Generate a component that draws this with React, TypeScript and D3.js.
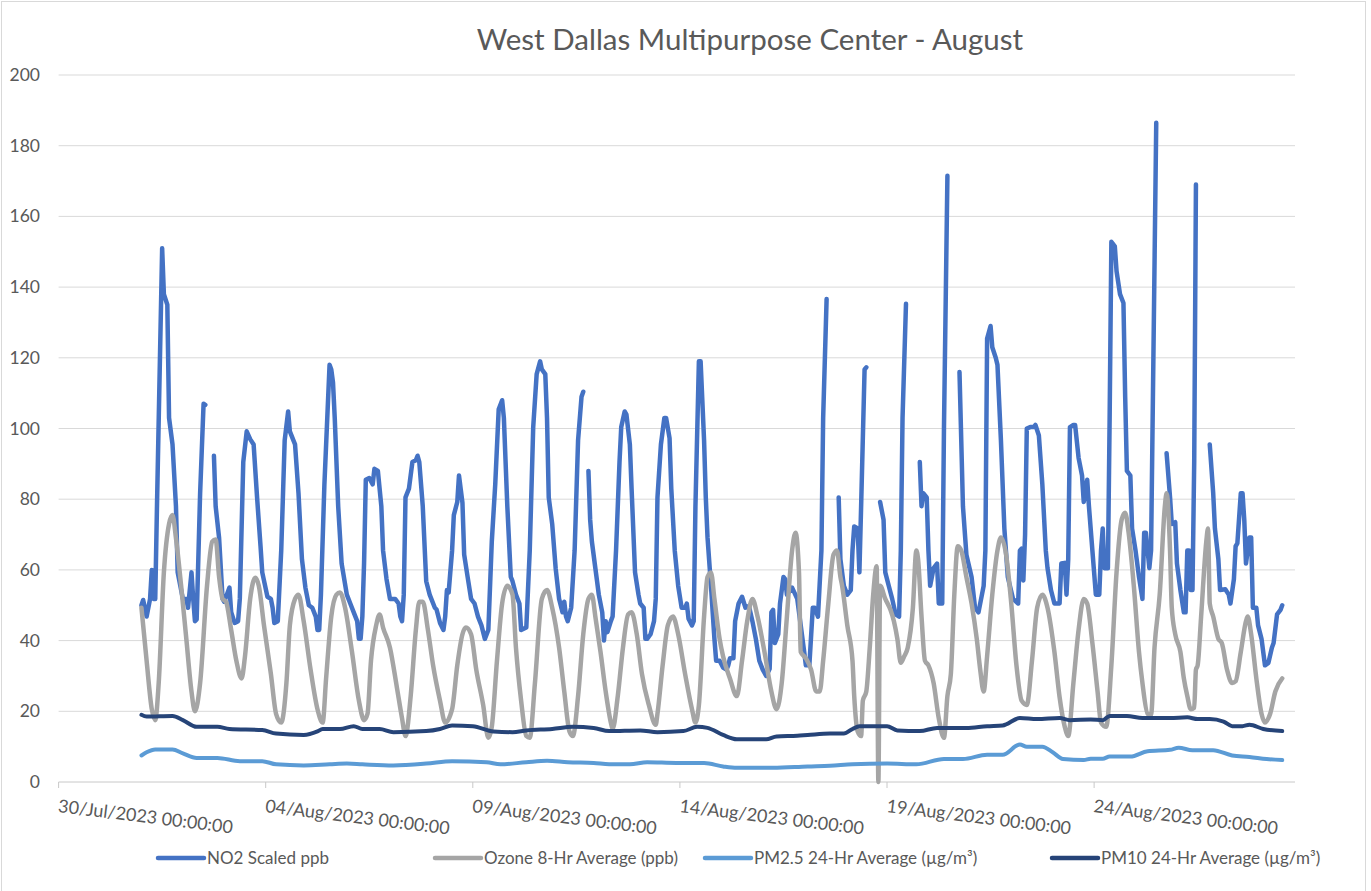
import React from "react";
import * as d3 from "d3";

type Pt = [number, number | null];

// hours since 01/Aug/2023 00:00, value
const no2: Pt[] = [[0,50],[1,51.5],[3,46.8],[5,51.8],[6,60],[7,51.8],[8,51.8],[9,78],[12,151],[13,138],[15,135],[16,103],[18,95.5],[20,78],[21,59.3],[24,51.8],[26,51.8],[27,49.3],[29,59.3],[30,51.8],[31,45.5],[32,46],[34,81.7],[36,107],[37,106.7],[39,null],[42,92.3],[43,78],[45,69],[47,51.8],[48,51],[51,55],[52,48],[54,45],[56,45.5],[57,51.8],[59,90.5],[61,99.2],[63,97],[65,95.5],[67,80.5],[69,66.7],[70,59.3],[73,52.4],[75,51.8],[76,49.3],[77,45],[79,45.5],[81,65.5],[83,96.7],[85,104.8],[86,99.2],[88,96.7],[89,95.5],[91,81.7],[93,63],[95,55],[97,50],[99,49.3],[101,46.8],[102,43],[103,43],[104,53],[106,84],[109,118],[110,116.7],[111,113],[112,103],[114,78],[116,61.8],[119,53],[121,50.5],[123,48],[125,45.5],[126,40.5],[127,40.5],[128,46.8],[129,62],[130,85.5],[132,86],[134,84.2],[135,88.6],[137,88],[139,78],[140,65.5],[142,57.4],[144,51.8],[147,51.8],[149,50.5],[150,46.8],[151,45.5],[152,53],[153,80.5],[155,83],[157,90.5],[159,91],[160,92.3],[161,90.5],[163,78],[165,56.8],[167,53],[170,49.3],[171,48.8],[173,45],[175,43],[176,46.8],[177,54.3],[178,53.6],[180,65.5],[181,75.5],[183,79.2],[184,86.7],[186,79],[187,64.3],[189,58],[191,51.8],[193,50.5],[195,46.8],[197,44.3],[199,40.5],[201,43],[203,68],[205,84.2],[207,105.4],[209,108],[210,103],[212,78],[214,58],[215,56.8],[217,53],[219,50.5],[220,43],[223,43.7],[225,65.5],[227,100.4],[229,115.4],[231,119],[232,116.7],[234,115.4],[235,103],[236,80.5],[238,73],[240,60.5],[242,51.8],[244,48],[245,51],[246,46.8],[247,45.5],[249,49.3],[251,65.5],[253,96.7],[255,109],[256,110.4],[257,null],[259,88],[260,74.2],[261,68],[263,60.5],[264,56.8],[265,53],[267,48],[268,40],[269,45.5],[270,42.4],[272,45.5],[273,46.8],[275,65.5],[277,90.5],[278,100.4],[280,104.8],[281,104],[283,95.5],[284,83],[286,59.3],[288,53],[289,50.5],[291,49.3],[292,40.5],[293,40.5],[295,41.8],[297,45.5],[298,51.8],[299,80.5],[301,95.5],[303,103],[304,103],[306,97.3],[307,83],[309,65.5],[311,55.5],[313,49.3],[315,49.3],[316,50.5],[317,46.2],[319,44.3],[320,45.5],[321,78],[323,119],[324,119],[326,96.7],[327,80.5],[328,69.2],[330,55.5],[332,40.5],[333,34.3],[335,34.3],[337,32.4],[339,31.8],[340,33],[341,35],[343,35],[344,45.5],[346,50.5],[348,52.4],[350,49.3],[352,49.8],[354,45.5],[356,40.5],[358,34.3],[360,31.8],[362,30],[364,32],[365,48],[366,48.7],[367,39.3],[369,41.8],[370,50.5],[372,58],[373,57.4],[374,53],[377,55],[380,51.8],[384,36.8],[385,33],[387,33],[389,49.3],[390,49.3],[392,46.8],[394,65.5],[395,103],[397,136.6],[398,null],[404,80.5],[405,63],[407,55.5],[409,53],[411,54.3],[412,65.5],[413,72.3],[415,71.7],[416,59.3],[417,78],[419,116.7],[420,117.3],[421,null],[428,79.2],[430,74.2],[431,59.3],[433,55.5],[435,51.8],[437,47.4],[439,46.8],[440,65.5],[441,103],[443,135.3],[444,null],[451,90.5],[452,78],[453,81.7],[455,80.5],[456,65.5],[457,55.5],[459,60.5],[461,61.8],[462,50.5],[464,50.5],[465,100],[467,171.5],[468,null],[474,116],[476,78],[478,64.3],[481,58],[483,49.3],[485,48],[488,55.5],[489,65.5],[490,125.4],[492,129],[493,123],[495,120],[496,118],[498,96.7],[500,71.7],[502,58],[505,51.8],[508,50.5],[509,65.5],[510,66],[511,57],[512,70],[513,100],[515,100.4],[517,100.4],[518,101],[520,98],[522,84.2],[524,65.5],[525,60.5],[527,54.3],[529,50.5],[530,50.5],[532,50.5],[533,61.8],[535,62],[536,53],[537,63],[538,100.4],[540,101],[541,101],[543,91.7],[545,86.7],[546,79.2],[548,85.5],[549,78],[551,65.5],[552,59.3],[553,53],[555,53],[556,65.5],[557,71.7],[558,60.5],[560,60.5],[561,103],[562,152.8],[564,151.5],[565,144.5],[567,138],[569,135.5],[570,109],[571,88],[573,86.7],[574,71.7],[576,65.5],[578,58],[580,51.8],[581,70.5],[582,70.5],[584,60.5],[585,65.5],[588,186.5],[589,null],[594,93],[596,80.5],[597,73],[599,73.5],[600,61.8],[602,54.3],[604,48],[605,48],[606,65.5],[607,65.5],[608,54.3],[609,54.3],[610,90.5],[611,169],[612,null],[619,95.5],[621,81.7],[622,71.7],[624,63],[625,54.3],[628,54.5],[630,53],[631,50.5],[633,57.4],[634,66.7],[635,67.5],[637,81.7],[638,81.7],[639,74.2],[640,61.8],[642,69.2],[643,69.2],[644,49.3],[646,49.3],[647,44.3],[649,40.5],[651,33],[653,33.7],[655,38],[656,39.3],[658,47.4],[660,48.7],[661,50]];

const ozone: Pt[] = [[0,49.3],[3,34.3],[6,20.6],[8,17.5],[10,28],[13,59.3],[16,73],[18,75.5],[20,69],[23,55.5],[26,40.5],[29,25.6],[31,20],[34,28],[38,55.5],[41,68],[43,68.6],[45,58],[47,51.8],[49,51],[52,43],[55,34.3],[58,29.3],[60,35.6],[63,51.8],[66,57.8],[68,55.5],[71,44.3],[75,30.6],[78,19.3],[81,16.8],[84,28],[86,44.3],[89,51.8],[91,53],[94,45.5],[98,31.8],[102,20.6],[105,16.8],[107,29.3],[110,46.8],[113,53],[115,53.6],[118,49.3],[122,36.8],[126,23],[129,17.5],[131,19.3],[133,34.3],[136,44.3],[138,47.4],[140,43.7],[144,38],[148,26.8],[151,18],[153,13],[156,24.3],[159,43],[161,51],[163,51],[166,43],[169,33],[173,23],[176,16.8],[180,20.6],[183,33],[186,41.8],[188,43.7],[191,41.8],[194,31.8],[198,21.8],[201,12.5],[203,15.6],[206,34.3],[209,50.5],[212,55.5],[215,53],[217,38],[220,23],[223,13],[225,12.5],[228,28],[232,51.8],[235,54.3],[238,49.3],[242,38],[245,25.6],[248,14.3],[250,13],[253,24.3],[256,41.8],[259,51.8],[261,53],[263,46.8],[266,36.8],[269,25.6],[272,16.8],[273,15],[276,24.3],[279,38],[282,47.4],[284,48],[287,41.8],[290,30.6],[294,21.8],[298,16.2],[299,19.3],[302,33],[305,44.3],[308,46.8],[311,41.8],[315,30.6],[319,20.6],[321,16.8],[323,21.8],[326,46.8],[328,58],[330,59.3],[332,51.8],[335,40.5],[337,35.6],[341,29.3],[345,24.3],[348,34.3],[351,45.5],[354,51.8],[357,46.8],[361,36.8],[365,25.6],[368,20.6],[371,28],[374,46.8],[377,65.5],[379,70.5],[381,59.3],[382,36.8],[385,35],[388,31.8],[391,25.6],[393,25.6],[395,34.3],[398,50.5],[401,64.3],[403,65.5],[405,58],[406,55.5],[409,44.3],[412,34.3],[413,24.3],[415,14.3],[417,13],[418,23],[420,25.6],[422,38],[424,53],[426,61],[427,0],[428,55.5],[431,51.8],[434,48.7],[436,45.5],[438,40.5],[440,33.7],[442,35.6],[444,38],[447,49.3],[449,65.5],[450,63],[452,46.8],[454,34.3],[456,33],[459,28],[462,18],[465,12.5],[467,24.3],[469,30.6],[471,53],[473,66.7],[475,65.5],[478,58],[481,50.5],[484,40.5],[486,31.8],[488,25.6],[490,35.6],[493,53],[496,65.5],[498,69.2],[501,64.3],[504,50.5],[507,33],[510,23],[513,21.8],[516,34.3],[519,49.3],[522,53],[525,49.3],[529,36.8],[532,24],[535,15.6],[537,13],[540,28],[543,43],[546,51.8],[548,50.5],[551,39.3],[554,25.6],[556,16.8],[559,15.6],[562,33],[565,59.3],[568,74.3],[570,76.2],[572,70.5],[575,55.5],[578,36.8],[580,28],[583,19.3],[585,19],[587,38],[590,53],[593,78],[594,81.7],[596,65.5],[597,49.3],[599,41.8],[602,36.8],[604,29.3],[606,24.3],[608,20.6],[610,21],[611,31.8],[612,33],[614,46.8],[617,68],[618,71.7],[619,50.5],[621,46.8],[624,40.5],[626,39.3],[629,31.8],[632,28],[634,28.5],[637,36.8],[640,45.5],[641,46.8],[643,41.8],[646,29.3],[649,19.3],[651,16.8],[654,19.3],[657,25.6],[661,29.3]];

const pm25: Pt[] = [[0,7.5],[3,8.4],[8,9.2],[18,9.2],[24,8.1],[32,6.8],[44,6.8],[57,5.9],[70,5.9],[78,5],[94,4.7],[109,5],[119,5.2],[128,5],[146,4.7],[165,5.2],[180,5.9],[200,5.6],[208,5],[223,5.6],[235,6],[247,5.6],[262,5.4],[271,5],[283,5],[293,5.6],[310,5.4],[326,5.4],[337,4.4],[345,4],[366,4],[386,4.4],[399,4.6],[412,5],[432,5.2],[449,5],[465,6.5],[476,6.5],[490,7.7],[499,7.7],[509,10.6],[513,10],[522,10],[528,8.4],[534,6.5],[546,6.2],[550,6.6],[557,6.6],[561,7.2],[573,7.2],[583,8.7],[596,9.1],[601,9.7],[609,9],[621,9],[632,7.5],[642,7.1],[652,6.5],[661,6.2]];

const pm10: Pt[] = [[0,19],[3,18.5],[18,18.7],[24,17.5],[32,15.6],[44,15.6],[51,15],[70,14.7],[78,13.7],[94,13.3],[102,14.3],[105,15],[115,15],[123,15.8],[128,15],[138,15],[146,14.1],[165,14.4],[173,15],[180,16],[192,15.8],[204,14.3],[215,14.1],[223,14.6],[238,15],[250,15.6],[262,15.3],[271,14.4],[289,14.6],[299,14.1],[314,14.4],[322,15.6],[328,15.3],[337,13.3],[345,12.1],[362,12.1],[368,12.9],[380,13.1],[386,13.3],[399,13.7],[407,13.7],[412,15],[416,15.8],[432,15.8],[438,14.6],[451,14.4],[461,15.3],[478,15.3],[490,15.8],[499,16],[509,18.1],[519,17.8],[532,18.1],[538,17.5],[550,17.7],[557,17.5],[561,18.7],[571,18.7],[580,18.1],[596,18.1],[606,18.3],[612,17.8],[619,17.8],[627,17.1],[632,15.8],[638,15.8],[642,16.2],[650,15],[661,14.4]];

const yTicks = [0, 20, 40, 60, 80, 100, 120, 140, 160, 180, 200];
const xTickDays = [0, 5, 10, 15, 20, 25]; // days after 30/Jul/2023
const seriesNames = ["NO2 Scaled ppb", "Ozone 8-Hr Average (ppb)", "PM2.5 24-Hr Average (µg/m³)", "PM10 24-Hr Average (µg/m³)"];
const title = "West Dallas Multipurpose Center - August";

const W = 1371, H = 891;
const left = 58.6, right = 1295, top = 75, bottom = 782;
const axisStart = new Date(2023, 6, 30);
const dataStart = new Date(2023, 7, 1);
const HOUR = 3600 * 1000;
const axisEnd = new Date(axisStart.getTime() + 29.85 * 24 * HOUR);

const colors = ["#4472C4", "#A5A5A5", "#5B9BD5", "#264478"];
const widths = [4.5, 4.5, 4, 4];
const FONT = "Lato, 'Open Sans', sans-serif";
const TXT = "#595959";

export default function App() {
  const x = d3.scaleTime().domain([axisStart, axisEnd]).range([left, right]);
  const y = d3.scaleLinear().domain([0, 200]).range([bottom, top]);
  const tx = (h: number) => x(new Date(dataStart.getTime() + h * HOUR));

  const linear = d3.line<Pt>()
    .defined(d => d[1] !== null)
    .x(d => tx(d[0]))
    .y(d => y(d[1] as number));
  const smooth = d3.line<Pt>()
    .defined(d => d[1] !== null)
    .x(d => tx(d[0]))
    .y(d => y(d[1] as number))
    .curve(d3.curveMonotoneX);

  const all = [no2, ozone, pm25, pm10];
  const fmt = d3.timeFormat("%d/%b/%Y %H:%M:%S");
  const xTicks = xTickDays.map(d => new Date(2023, 6, 30 + d));

  const legendX = [158, 435, 705, 1052];
  const legendY = 858;

  return (
    <svg width={W} height={H} style={{ position: "absolute", left: 0, top: 0, background: "#fff" }} fontFamily={FONT}>
      <rect x={0} y={0} width={W} height={H} fill="#fff" />
      <rect x={1.5} y={1.5} width={1364} height={H + 5} fill="none" stroke="#d9d9d9" strokeWidth={1} />
      <text x={750} y={50} textAnchor="middle" fontSize={29.5} fill={TXT}>{title}</text>
      {yTicks.map(t => (
        <g key={t}>
          <line x1={left} x2={right} y1={y(t)} y2={y(t)} stroke={t === 0 ? "#c8c8c8" : "#d9d9d9"} strokeWidth={1} />
          <text x={40} y={y(t) + 6} textAnchor="end" fontSize={17.5} fill={TXT}>{t}</text>
        </g>
      ))}
      {xTicks.map((d, i) => {
        const px = x(d);
        return (
          <g key={i}>
            <line x1={px} x2={px} y1={bottom} y2={bottom + 6} stroke="#c8c8c8" strokeWidth={1} />
            <text x={px - 1} y={812} fontSize={18} fill={TXT} transform={`rotate(7, ${px - 1}, 812)`}>{fmt(d)}</text>
          </g>
        );
      })}
      {all.map((s, i) => (
        <path key={i} d={(i === 0 ? linear : smooth)(s) || ""} fill="none" stroke={colors[i]} strokeWidth={widths[i]} strokeLinejoin="round" strokeLinecap="round" />
      ))}
      {seriesNames.map((n, i) => (
        <g key={n}>
          <line x1={legendX[i]} x2={legendX[i] + 46} y1={legendY} y2={legendY} stroke={colors[i]} strokeWidth={4.5} strokeLinecap="round" />
          <text x={legendX[i] + 49} y={legendY + 6} fontSize={17} fill={TXT}>{n}</text>
        </g>
      ))}
    </svg>
  );
}
